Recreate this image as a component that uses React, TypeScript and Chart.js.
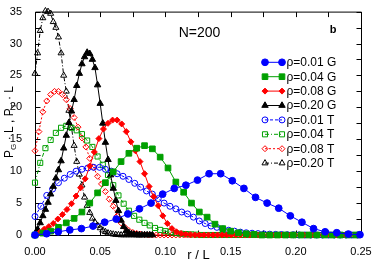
import { useEffect, useRef } from "react";
import { Chart, registerables } from "chart.js";

Chart.register(...registerables);

const FONT = '"Liberation Sans", Arial, Helvetica, sans-serif';

// ---- axes ----
const xTickValues = [0, 0.05, 0.1, 0.15, 0.2, 0.25];
const xTickLabels = ["0.00", "0.05", "0.10", "0.15", "0.20", "0.25"];
const yTickValues = [0, 5, 10, 15, 20, 25, 30, 35];
const yTickLabels = ["0", "5", "10", "15", "20", "25", "30", "35"];
const xMinorStep = 0.025;
const yMinorStep = 2.5;

// ---- series labels / colours ----
const seriesLabels = [
  "ρ=0.01 G", "ρ=0.04 G", "ρ=0.08 G", "ρ=0.20 G",
  "ρ=0.01 T", "ρ=0.04 T", "ρ=0.08 T", "ρ=0.20 T",
];
const seriesColors = [
  "#0000ff", "#00a000", "#ff0000", "#000000",
  "#0000ff", "#00a000", "#ff0000", "#000000",
];

// ---- data: bin width (r/L) + values ----
const stepG001 = 0.0089;
const valuesG001 = [0, 0.2, 0.5, 0.8, 1.0, 1.4, 2.0, 2.5, 3.3, 4.1, 5.0, 6.4, 7.3, 7.8, 8.6, 9.6, 9.6, 8.5, 7.3, 5.9, 5.0, 4.2, 3.0, 2.0, 1.0, 0.5, 0.35, 0.15, 0.05];

const stepG004 = 0.006;
const valuesG004 = [0, 0.3, 0.6, 1.2, 1.9, 2.6, 3.6, 5.0, 6.6, 8.2, 9.9, 11.5, 12.8, 13.6, 14.0, 13.5, 12.2, 10.5, 8.3, 6.7, 5.0, 3.6, 2.8, 1.7, 1.0, 0.6, 0.35, 0.2, 0.1,
  0, 0, 0, 0, 0, 0, 0, 0, 0, 0, 0, 0, 0];

const stepG008 = 0.0035;
const valuesG008 = [0, 0.4, 0.9, 1.3, 1.8, 2.5, 3.2, 4.0, 4.9, 6.1, 7.4, 8.8, 10.8, 13.0, 15.1, 16.6, 17.5, 18.0, 18.0, 17.4, 16.2, 14.6, 13.2, 11.5, 9.6, 7.6, 6.0, 4.6, 3.0, 1.8, 1.0, 0.5, 0.25, 0.1, 0.05,
  0, 0, 0, 0, 0, 0, 0, 0, 0, 0, 0, 0, 0, 0, 0, 0, 0, 0, 0, 0, 0, 0, 0, 0, 0, 0, 0, 0, 0, 0, 0, 0, 0, 0, 0, 0, 0];

const stepG020 = 0.002;
const valuesG020 = [0, 0.9, 1.9, 3.0, 4.0, 5.1, 6.4, 7.6, 8.9, 10.2, 11.6, 13.6, 15.6, 17.6, 19.4, 21.2, 23.4, 25.3, 26.8, 27.9, 28.6, 28.4, 27.5, 26.2, 23.5, 20.6, 17.5, 14.5, 11.8, 9.4, 7.3, 5.4, 3.8, 2.3, 1.3, 0.7, 0.35, 0.15, 0.08, 0.03,
  0, 0, 0, 0, 0, 0];

const stepT001 = 0.0045;
const valuesT001 = [2.9, 4.5, 6.2, 7.2, 8.2, 8.9, 9.5, 10.0, 10.3, 10.5, 10.6, 10.6, 10.3, 10.0, 9.6, 9.2, 8.7, 8.1, 7.5, 6.9, 6.4, 5.7, 5.0, 4.5, 4.1, 3.6, 3.3, 2.8, 2.2, 1.8, 1.4, 1.2, 0.95, 0.75, 0.6, 0.45, 0.35, 0.28, 0.22, 0.17, 0.13, 0.1, 0.08, 0.05, 0.04, 0.02,
  0, 0, 0, 0, 0, 0, 0, 0, 0, 0];

const stepT004 = 0.004;
const valuesT004 = [8.2, 11.3, 13.6, 14.9, 16.0, 16.8, 17.1, 16.8, 16.4, 15.8, 14.8, 13.8, 12.3, 11.0, 9.4, 7.8, 6.2, 4.9, 3.8, 3.0, 2.4, 1.9, 1.5, 1.1, 0.8, 0.6, 0.45, 0.3, 0.2, 0.15, 0.1, 0.05,
  0, 0, 0, 0, 0, 0, 0, 0, 0, 0, 0, 0, 0, 0, 0, 0, 0, 0, 0, 0, 0, 0, 0, 0, 0, 0, 0, 0, 0, 0, 0];

const stepT008 = 0.003;
const valuesT008 = [13.2, 16.2, 19.3, 21.0, 22.0, 22.5, 22.5, 22.0, 21.2, 19.8, 18.4, 16.9, 15.2, 13.8, 12.0, 10.6, 9.2, 8.0, 6.8, 5.6, 4.5, 3.0, 1.9, 1.2, 0.7, 0.4, 0.25, 0.12, 0.06,
  0, 0, 0, 0, 0, 0, 0, 0, 0, 0, 0, 0, 0, 0, 0, 0, 0, 0, 0, 0, 0, 0, 0, 0, 0, 0, 0, 0,
  0, 0, 0, 0, 0, 0, 0, 0, 0, 0, 0, 0, 0, 0, 0, 0, 0, 0, 0, 0, 0, 0, 0, 0, 0, 0, 0];

const stepT020 = 0.002;
const valuesT020 = [25.3, 28.5, 32.0, 34.0, 35.1, 35.0, 34.7, 33.4, 32.5, 31.0, 28.5, 25.0, 22.5, 19.5, 16.8, 14.0, 11.5, 9.5, 7.8, 5.9, 4.6, 3.5, 2.6, 2.0, 1.5, 1.1, 0.75, 0.5, 0.3, 0.2, 0.12, 0.06, 0.03,
  0, 0, 0, 0, 0, 0, 0, 0];

const seriesSteps = [stepG001, stepG004, stepG008, stepG020, stepT001, stepT004, stepT008, stepT020];
const seriesValues = [valuesG001, valuesG004, valuesG008, valuesG020, valuesT001, valuesT004, valuesT008, valuesT020];

// ---- styles ----
const seriesMarkers = ["circle", "rect", "rectRot", "triangle", "circle", "rect", "rectRot", "triangle"];
const seriesRadius = [3.4, 4, 3, 3.7, 3, 3.6, 3, 3.5];
const seriesFilled = [true, true, true, true, false, false, false, false];
const seriesDash: number[][] = [[], [], [], [], [3, 2], [4, 2, 1, 2], [2, 2], [4, 2, 1, 2]];

function drawMarker(ctx: CanvasRenderingContext2D, style: string, x: number, y: number, r: number, color: string, filled: boolean) {
  ctx.save();
  ctx.setLineDash([]);
  ctx.lineWidth = 1;
  ctx.strokeStyle = color;
  ctx.fillStyle = color;
  ctx.beginPath();
  if (style === "circle") {
    ctx.arc(x, y, r, 0, Math.PI * 2);
  } else if (style === "rect") {
    const s = Math.SQRT1_2 * r;
    ctx.rect(x - s, y - s, 2 * s, 2 * s);
  } else if (style === "rectRot") {
    ctx.moveTo(x, y - r);
    ctx.lineTo(x + r, y);
    ctx.lineTo(x, y + r);
    ctx.lineTo(x - r, y);
    ctx.closePath();
  } else {
    ctx.moveTo(x, y - r);
    ctx.lineTo(x + 0.866 * r, y + r / 2);
    ctx.lineTo(x - 0.866 * r, y + r / 2);
    ctx.closePath();
  }
  if (filled) ctx.fill();
  ctx.stroke();
  ctx.restore();
}

const framePlugin = {
  id: "frameTicks",
  beforeDatasetsDraw(chart: any) {
    const { ctx, chartArea } = chart;
    const { left, right, top, bottom } = chartArea;
    const xs = chart.scales.x;
    const ys = chart.scales.y;
    ctx.save();
    ctx.strokeStyle = "#000";
    ctx.lineWidth = 1;
    ctx.beginPath();
    ctx.rect(left + 0.5, top + 0.5, right - left, bottom - top);
    ctx.stroke();
    const tl = 5;
    ctx.beginPath();
    for (let v = xs.min; v <= xs.max + 1e-9; v += xMinorStep) {
      const px = Math.round(xs.getPixelForValue(v)) + 0.5;
      ctx.moveTo(px, bottom + 0.5);
      ctx.lineTo(px, bottom + 0.5 - tl);
      ctx.moveTo(px, top + 0.5);
      ctx.lineTo(px, top + 0.5 + tl);
    }
    for (let v = ys.min; v <= ys.max + 1e-9; v += yMinorStep) {
      const py = Math.round(ys.getPixelForValue(v)) + 0.5;
      ctx.moveTo(left + 0.5, py);
      ctx.lineTo(left + 0.5 + tl, py);
      ctx.moveTo(right + 0.5, py);
      ctx.lineTo(right + 0.5 - tl, py);
    }
    ctx.stroke();
    ctx.restore();
  },
  afterDraw(chart: any) {
    const ctx: CanvasRenderingContext2D = chart.ctx;
    ctx.save();
    ctx.fillStyle = "#000";
    // N=200
    ctx.font = `14px ${FONT}`;
    ctx.textAlign = "center";
    ctx.textBaseline = "middle";
    ctx.fillText("N=200", 199.5, 33);
    // panel letter
    ctx.font = `bold 11px ${FONT}`;
    ctx.fillText("b", 333, 29.5);
    // x title
    ctx.font = `13px ${FONT}`;
    ctx.fillText("r / L", 198.5, 255);
    // y title with subscripts
    ctx.save();
    ctx.translate(10, 122);
    ctx.rotate(-Math.PI / 2);
    const parts = [
      { t: "P", sub: false }, { t: "G", sub: true }, { t: " · L , P", sub: false },
      { t: "T", sub: true }, { t: " · L", sub: false },
    ];
    const mainFont = `12px ${FONT}`;
    const subFont = `8px ${FONT}`;
    let total = 0;
    for (const p of parts) { ctx.font = p.sub ? subFont : mainFont; total += ctx.measureText(p.t).width; }
    let cx = -total / 2;
    ctx.textAlign = "left";
    for (const p of parts) {
      ctx.font = p.sub ? subFont : mainFont;
      ctx.fillText(p.t, cx, p.sub ? 4 : 0);
      cx += ctx.measureText(p.t).width;
    }
    ctx.restore();
    // legend
    const x1 = 265, x2 = 282, ly0 = 62.3, dy = 14.4;
    ctx.font = `12px ${FONT}`;
    ctx.textAlign = "left";
    ctx.textBaseline = "middle";
    for (let i = 0; i < seriesLabels.length; i++) {
      const y = ly0 + i * dy;
      const c = seriesColors[i];
      ctx.save();
      ctx.strokeStyle = c;
      ctx.lineWidth = 1;
      ctx.setLineDash(seriesDash[i]);
      ctx.beginPath();
      ctx.moveTo(x1, y);
      ctx.lineTo(x2, y);
      ctx.stroke();
      ctx.restore();
      drawMarker(ctx, seriesMarkers[i], x1, y, seriesRadius[i], c, seriesFilled[i]);
      drawMarker(ctx, seriesMarkers[i], x2, y, seriesRadius[i], c, seriesFilled[i]);
      ctx.fillStyle = "#000";
      ctx.fillText(seriesLabels[i], 286.5, y + 0.5);
    }
    ctx.restore();
  },
};

export default function App() {
  const ref = useRef<HTMLCanvasElement>(null);
  useEffect(() => {
    document.body.style.margin = "0";
    const datasets = seriesLabels.map((label, i) => ({
      label,
      data: seriesValues[i].map((v, k) => ({ x: k * seriesSteps[i], y: v })),
      borderColor: seriesColors[i],
      backgroundColor: seriesFilled[i] ? seriesColors[i] : "rgba(0,0,0,0)",
      pointBackgroundColor: seriesFilled[i] ? seriesColors[i] : "rgba(0,0,0,0)",
      pointBorderColor: seriesColors[i],
      pointStyle: seriesMarkers[i],
      pointRadius: seriesRadius[i],
      pointBorderWidth: 1,
      borderWidth: 1,
      borderDash: seriesDash[i],
      showLine: true,
      tension: 0,
      clip: false as any,
      fill: false,
    }));
    const chart = new Chart(ref.current!, {
      type: "line",
      data: { datasets: datasets as any },
      options: {
        animation: false,
        responsive: false,
        devicePixelRatio: 1,
        layout: { padding: { top: 7, right: 13, left: 0, bottom: 0 } },
        plugins: { legend: { display: false }, tooltip: { enabled: false } },
        scales: {
          x: {
            type: "linear",
            min: 0,
            max: 0.25,
            grid: { display: false },
            border: { display: false },
            afterBuildTicks: (s: any) => { s.ticks = xTickValues.map((v) => ({ value: v })); },
            afterFit: (s: any) => { s.height = 28; },
            ticks: {
              callback: (_v: any, i: number) => xTickLabels[i],
              font: { size: 11, family: FONT },
              color: "#000",
              padding: 2,
              maxRotation: 0,
              autoSkip: false,
            },
          },
          y: {
            type: "linear",
            min: 0,
            max: 35,
            grid: { display: false },
            border: { display: false },
            afterBuildTicks: (s: any) => { s.ticks = yTickValues.map((v) => ({ value: v })); },
            afterFit: (s: any) => { s.width = 35; },
            ticks: {
              callback: (_v: any, i: number) => yTickLabels[i],
              font: { size: 11, family: FONT },
              color: "#000",
              padding: 5,
              autoSkip: false,
            },
          },
        },
      },
      plugins: [framePlugin],
    });
    return () => chart.destroy();
  }, []);
  return (
    <div style={{ width: 374, height: 263 }}>
      <canvas ref={ref} width={374} height={263} style={{ display: "block" }} />
    </div>
  );
}
